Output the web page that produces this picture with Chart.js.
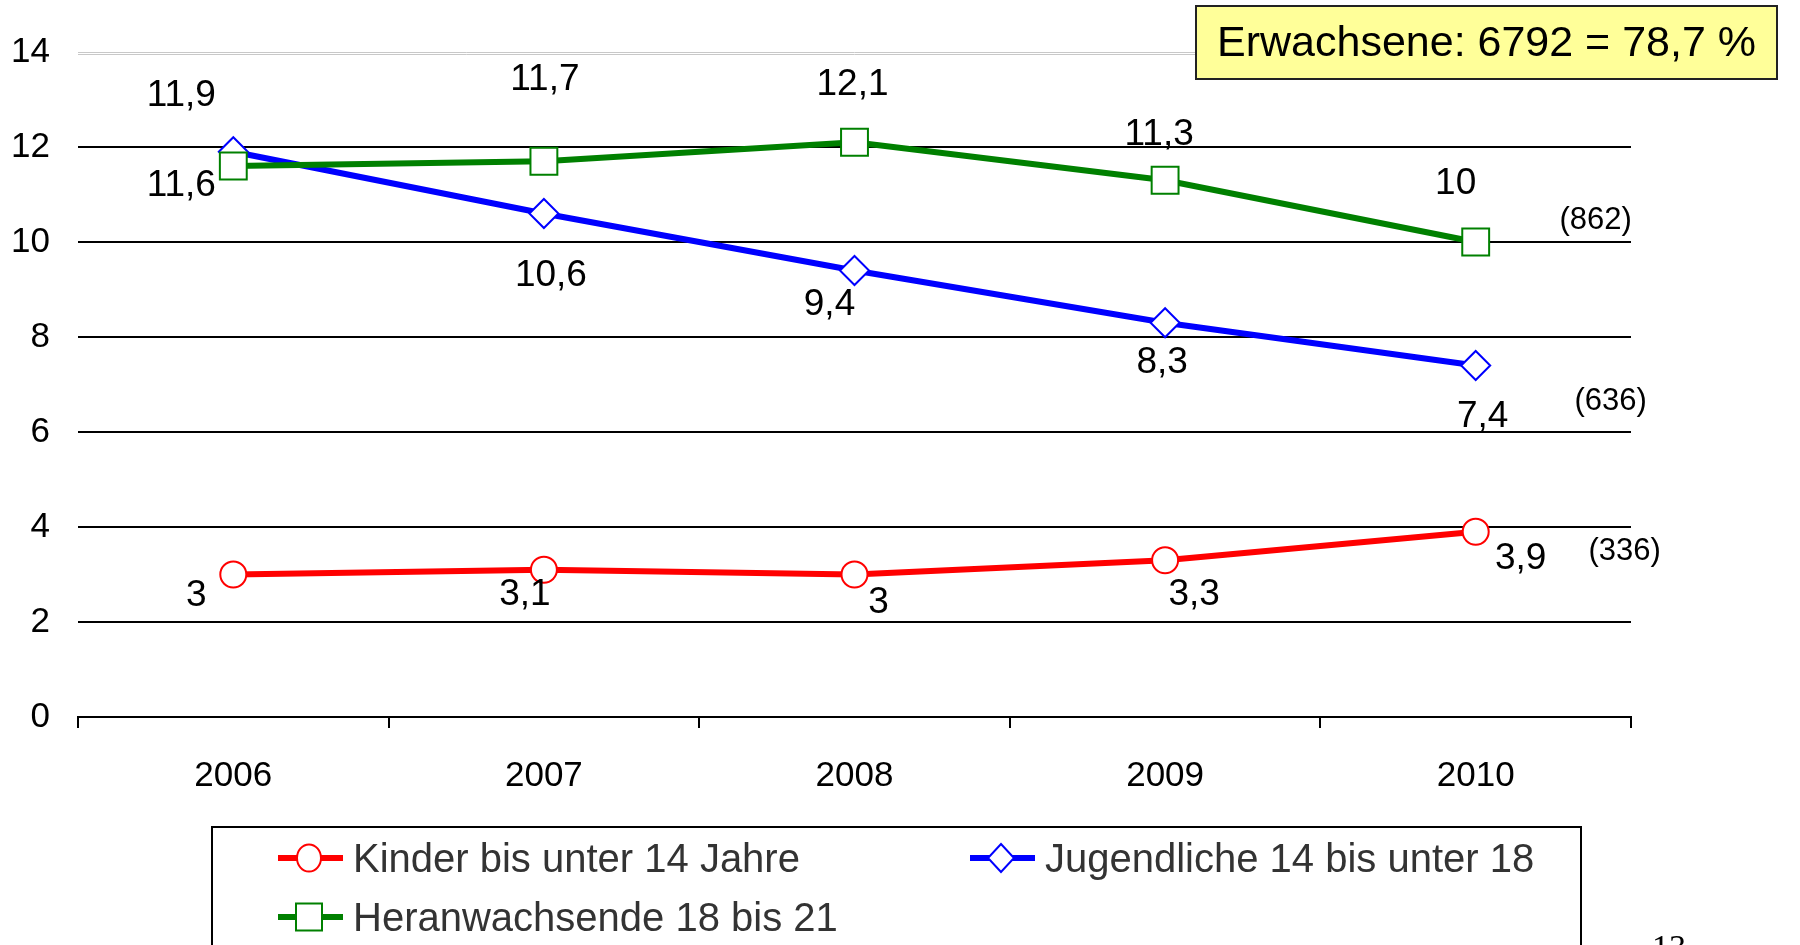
<!DOCTYPE html>
<html>
<head>
<meta charset="utf-8">
<script src="https://cdn.jsdelivr.net/npm/chart.js@4.4.0/dist/chart.umd.min.js"></script>
<style>
html, body { margin: 0; padding: 0; background: #fff; }
#wrap { position: relative; width: 1800px; height: 945px; overflow: hidden; }
</style>
</head>
<body>
<div id="wrap"><canvas id="chart" width="1800" height="945"></canvas></div>
<script>
// Daten
const years = ["2006", "2007", "2008", "2009", "2010"];
const kinder = [3, 3.1, 3, 3.3, 3.9];
const jugendliche = [11.9, 10.6, 9.4, 8.3, 7.4];
const heranwachsende = [11.6, 11.7, 12.1, 11.3, 10];
const seriesNames = ["Kinder bis unter 14 Jahre", "Jugendliche 14 bis unter 18", "Heranwachsende 18 bis 21"];
const totals = ["(336)", "(636)", "(862)"];
const infoText = "Erwachsene: 6792 = 78,7 %";
const pageNo = "13";

// Lage der Wertebeschriftungen relativ zum Punkt (px)
const labelOffsets = [
    [[-37, 21], [-19, 25], [24, 28], [29, 35], [45, 27]],
    [[-52, -56], [7, 62], [-25, 34], [-3, 40], [7, 51]],
    [[-52, 20], [1, -81], [-2, -57], [-6, -45], [-20, -58]]
];
const totalOffsets = [[149, 20], [135, 36], [120, -22]];

const FONT = "'Liberation Sans', Arial, sans-serif";
const fmt = v => String(v).replace(".", ",");

const styles = [
    { color: "#FF0000", pointStyle: "circle", radius: 13 },
    { color: "#0000FF", pointStyle: "rectRot", radius: 14.5 },
    { color: "#008000", pointStyle: "rect", radius: 19 }
];
const values = [kinder, jugendliche, heranwachsende];

function drawMarker(c, style, x, y) {
    c.save();
    c.fillStyle = "#fff";
    c.strokeStyle = style.color;
    c.lineWidth = 2;
    c.beginPath();
    if (style.pointStyle === "circle") {
        c.ellipse(x, y, 12, 13.5, 0, 0, Math.PI * 2);
    } else if (style.pointStyle === "rectRot") {
        c.moveTo(x, y - 14); c.lineTo(x + 13, y); c.lineTo(x, y + 14); c.lineTo(x - 13, y); c.closePath();
    } else {
        c.rect(x - 13, y - 13.5, 26, 27);
    }
    c.fill();
    c.stroke();
    c.restore();
}

const extras = {
    id: "extras",
    beforeDatasetsDraw(chart) {
        const c = chart.ctx;
        const y = chart.scales.y;
        const a = chart.chartArea;
        // zweite Linie oben (Doppellinie)
        c.save();
        c.strokeStyle = "#c8c8c8";
        c.lineWidth = 1;
        c.beginPath();
        c.moveTo(a.left, y.getPixelForValue(14) + 2.5);
        c.lineTo(a.right, y.getPixelForValue(14) + 2.5);
        c.stroke();
        c.restore();
    },
    afterDatasetsDraw(chart) {
        const c = chart.ctx;
        c.save();
        c.fillStyle = "#000";
        c.textAlign = "center";
        c.textBaseline = "middle";
        chart.data.datasets.forEach((ds, di) => {
            const meta = chart.getDatasetMeta(di);
            c.font = "37px " + FONT;
            meta.data.forEach((pt, i) => {
                const off = labelOffsets[di][i];
                c.fillText(fmt(ds.data[i]), pt.x + off[0], pt.y + off[1]);
            });
            const last = meta.data[meta.data.length - 1];
            c.font = "31px " + FONT;
            c.fillText(totals[di], last.x + totalOffsets[di][0], last.y + totalOffsets[di][1]);
        });
        c.restore();
    },
    afterDraw(chart) {
        const c = chart.ctx;
        c.save();
        // Infobox
        c.fillStyle = "#FFFF99";
        c.fillRect(1196, 6, 581, 73);
        c.strokeStyle = "#222";
        c.lineWidth = 2;
        c.strokeRect(1196, 6, 581, 73);
        c.fillStyle = "#000";
        c.font = "43px " + FONT;
        c.textAlign = "left";
        c.textBaseline = "middle";
        c.fillText(infoText, 1217, 44);

        // Legende
        c.strokeStyle = "#000";
        c.lineWidth = 2;
        c.strokeRect(212, 827, 1369, 140);
        const pos = [[309, 858], [1001, 858], [309, 917]];
        c.font = "40px " + FONT;
        styles.forEach((st, i) => {
            const [x, y] = pos[i];
            c.strokeStyle = st.color;
            c.lineWidth = 6;
            c.beginPath();
            c.moveTo(x - 31, y);
            c.lineTo(x + 34, y);
            c.stroke();
            drawMarker(c, st, x, y);
            c.fillStyle = "#333";
            c.fillText(seriesNames[i], x + 44, y + 3);
        });

        // Seitenzahl
        c.fillStyle = "#000";
        c.font = "34px 'Liberation Serif', serif";
        c.textBaseline = "top";
        c.fillText(pageNo, 1652, 932);
        c.restore();
    }
};

const datasets = values.map((vals, i) => ({
    label: seriesNames[i],
    data: vals,
    borderColor: styles[i].color,
    borderWidth: 6,
    pointStyle: styles[i].pointStyle,
    pointRadius: styles[i].radius,
    pointBackgroundColor: "#fff",
    pointBorderColor: styles[i].color,
    pointBorderWidth: 2,
    fill: false,
    tension: 0,
    order: 2 - i
}));

new Chart(document.getElementById("chart"), {
    type: "line",
    data: { labels: years, datasets: datasets },
    options: {
        responsive: false,
        animation: false,
        devicePixelRatio: 1,
        layout: { padding: { top: 52, right: 169, left: 0, bottom: 0 } },
        plugins: {
            legend: { display: false },
            tooltip: { enabled: false }
        },
        scales: {
            x: {
                offset: true,
                grid: {
                    offset: true,
                    drawOnChartArea: false,
                    drawTicks: true,
                    tickLength: 11,
                    color: "#000",
                    lineWidth: 2
                },
                border: { display: true, color: "#000", width: 2 },
                ticks: { color: "#000", font: { family: FONT, size: 35 }, padding: 27 },
                afterFit: s => { s.height = 945 - 717; }
            },
            y: {
                min: 0,
                max: 14,
                ticks: {
                    stepSize: 2,
                    color: "#000",
                    font: { family: FONT, size: 35 },
                    padding: 28
                },
                grid: {
                    drawTicks: false,
                    color: ctx => (ctx.tick && ctx.tick.value === 14) ? "#c8c8c8" : "#000",
                    lineWidth: ctx => (ctx.tick && ctx.tick.value === 14) ? 1 : 2
                },
                border: { display: false },
                afterFit: s => { s.width = 78; }
            }
        }
    },
    plugins: [extras]
});
</script>
</body>
</html>
